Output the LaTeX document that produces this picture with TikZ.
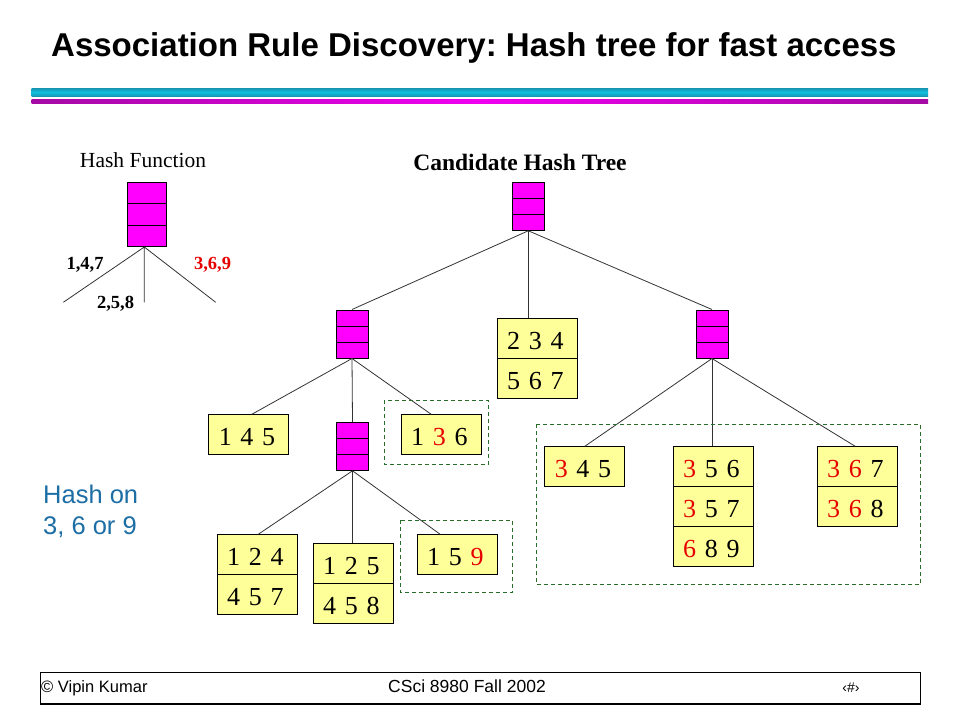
\documentclass[tikz,border=0pt]{standalone}
\usepackage{fontspec}
\setmainfont{Liberation Serif}
\newfontfamily\arialfont{Liberation Sans}
\usetikzlibrary{shapes.multipart,calc}
\definecolor{leafyellow}{RGB}{255,255,153}
\definecolor{hashmag}{RGB}{255,0,255}
\definecolor{hred}{RGB}{230,0,0}
\definecolor{dgreen}{RGB}{40,110,40}
\definecolor{hblue}{RGB}{28,110,165}
\definecolor{cyanmid}{RGB}{18,192,224}
\definecolor{cyandark}{RGB}{22,150,180}
\definecolor{magbright}{RGB}{240,0,240}
\definecolor{magdark}{RGB}{165,10,165}
\newcommand\R[1]{\textcolor{hred}{#1}}
\newcommand\ls{\rule[-5.5pt]{0pt}{33pt}}
\frenchspacing
\begin{document}
\begin{tikzpicture}[x=1pt,y=-1pt,
 conn/.style={draw=black!80,line width=0.8pt},
 hashbox/.style={draw, fill=hashmag, line width=1pt, minimum width=32pt, minimum height=48pt, inner sep=0pt,
   path picture={\draw[line width=1pt]
     ($(path picture bounding box.north west)!1/3!(path picture bounding box.south west)$) -- ($(path picture bounding box.north east)!1/3!(path picture bounding box.south east)$)
     ($(path picture bounding box.north west)!2/3!(path picture bounding box.south west)$) -- ($(path picture bounding box.north east)!2/3!(path picture bounding box.south east)$);}},
 leafbox/.style={rectangle split, rectangle split parts=#1, draw, line width=1pt, fill=leafyellow,
   text width=60pt, align=left, inner xsep=10pt, inner ysep=3pt, font=\fontsize{26}{30}\selectfont, anchor=north west},
 dashbox/.style={draw=dgreen, line width=0.8pt, dash pattern=on 4pt off 3pt},
 txt/.style={inner sep=0pt, anchor=base}]
\useasboundingbox (0,0) rectangle (960,720);
\fill[white] (0,0) rectangle (960,720);

% title and bars
\node[txt, anchor=base west, font=\arialfont\bfseries\fontsize{33}{36}\selectfont] (title) at (51,56) {Association Rule Discovery: Hash tree for fast access};
\shade[top color=cyandark, bottom color=cyandark, middle color=cyanmid] (31.7,88.3) rectangle (928,96);
\shade[left color=magdark, right color=magdark, middle color=magbright] (31.7,99.3) rectangle (928,103.3);

% hash function
\node[txt, font=\fontsize{21.5}{24}\selectfont] (hftitle) at (143,167.3) {Hash Function};
\node[hashbox, minimum width=39pt, minimum height=64pt] (hf) at (147.3,214.5) {};
\coordinate (hfo) at ([xshift=-3pt]hf.south);
\coordinate (a1) at (63.3,302.3);
\coordinate (a2) at (144.3,302.3);
\coordinate (a3) at (215.7,302.3);
\draw[conn] (hfo) -- (a1) (hfo) -- (a2) (hfo) -- (a3);
\node[txt, font=\bfseries\fontsize{18.5}{22}\selectfont] (l147) at (85,269) {1,4,7};
\node[txt, font=\bfseries\fontsize{18.5}{22}\selectfont, text=hred] (l369) at (212.5,269) {3,6,9};
\node[txt, font=\bfseries\fontsize{18.5}{22}\selectfont] (l258) at (115.5,308.3) {2,5,8};

% candidate hash tree
\node[txt, font=\bfseries\fontsize{23.5}{26}\selectfont] (cht) at (520,170) {Candidate Hash Tree};
\node[hashbox] (root) at (528.3,206.3) {};
\node[hashbox] (lh) at (352,334) {};
\node[hashbox] (rh) at (712,334) {};
\node[hashbox] (lmh) at (352.5,446.3) {};

\node[leafbox=2] (l234) at (496.7,318.3) {2 3 4\ls\nodepart{two}5 6 7\ls};
\node[leafbox=1] (l145) at (208.3,414.3) {1 4 5\ls};
\node[leafbox=1] (l136) at (400.7,414.3) {1 \R{3} 6\ls};
\node[leafbox=2] (l124) at (216.7,534.3) {1 2 4\ls\nodepart{two}4 5 7\ls};
\node[leafbox=2] (l125) at (312.7,542.7) {1 2 5\ls\nodepart{two}4 5 8\ls};
\node[leafbox=1] (l159) at (416.7,534.3) {1 5 \R{9}\ls};
\node[leafbox=1] (l345) at (544.3,446.3) {\R{3} 4 5\ls};
\node[leafbox=3] (l356) at (672.7,446.3) {\R{3} 5 6\ls\nodepart{two}\R{3} 5 7\ls\nodepart{three}\R{6} 8 9\ls};
\node[leafbox=2] (l367) at (816.7,446.3) {\R{3} \R{6} 7\ls\nodepart{two}\R{3} \R{6} 8\ls};

\draw[conn] (root.south) -- (lh.north);
\draw[conn] (root.south) -- (root.south |- l234.north);
\draw[conn] (root.south) -- (rh.north);
\draw[conn] (lh.south) -- ([xshift=3pt]l145.north);
\draw[conn] (lh.south) -- (lmh.north);
\draw[conn] (lh.south) -- ([xshift=-10pt]l136.north);
\draw[conn] (lmh.south) -- ([xshift=1pt]l124.north);
\draw[conn] (lmh.south) -- (lmh.south |- l125.north);
\draw[conn] (lmh.south) -- ([xshift=-17pt]l159.north);
\draw[conn] (rh.south) -- (l345.north);
\draw[conn] (rh.south) -- (rh.south |- l356.north);
\draw[conn] (rh.south) -- ([xshift=-2pt]l367.north);

% dashed groups
\draw[dashbox] (384.3,400) rectangle (488.3,464.3);
\draw[dashbox] (400.3,520.3) rectangle (512.7,592.3);
\draw[dashbox] (536,424.3) rectangle (920.7,584.3);

% hash on
\node[txt, anchor=base west, font=\arialfont\fontsize{25.5}{31}\selectfont, text=hblue] (hashon1) at (43,503.3) {Hash on};
\node[txt, anchor=base west, font=\arialfont\fontsize{25.5}{31}\selectfont, text=hblue] (hashon2) at (43,534) {3, 6 or 9};

% footer
\draw[line width=1.2pt] (40.7,672.3) rectangle (920.7,704);
\node[txt, anchor=base west, font=\arialfont\fontsize{16.5}{19}\selectfont] (f1) at (41,692) {© Vipin Kumar};
\node[txt, font=\arialfont\fontsize{17.5}{19}\selectfont] (f2) at (467,692) {CSci 8980 Fall 2002};
\node[txt, font=\arialfont\fontsize{14}{17}\selectfont] (f3) at (851,692) {‹\#›};
\end{tikzpicture}
\end{document}
